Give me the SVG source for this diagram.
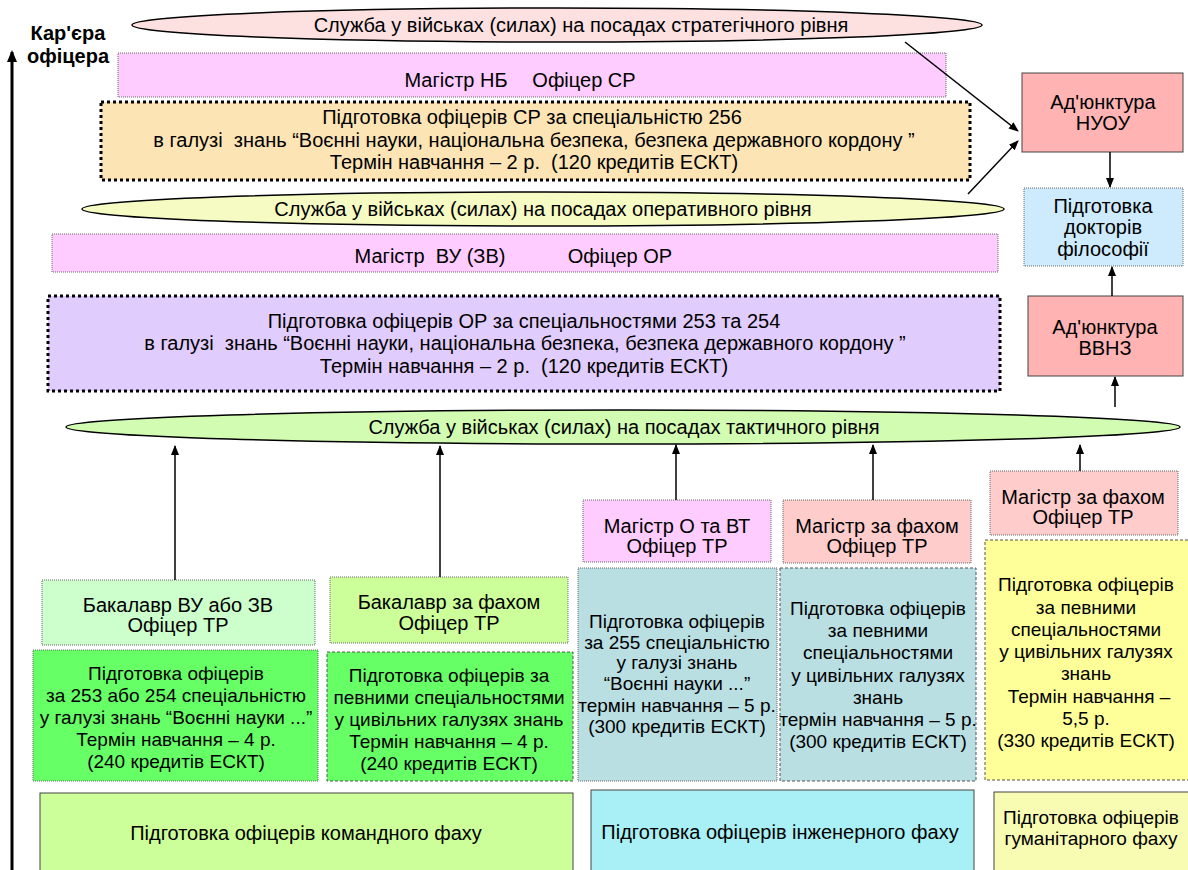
<svg xmlns="http://www.w3.org/2000/svg" width="1188" height="870" viewBox="0 0 1188 870">
<defs>
<marker id="ah" markerWidth="10" markerHeight="10" refX="9" refY="5" orient="auto" markerUnits="userSpaceOnUse">
<path d="M0,1 L10,5 L0,9 Z" fill="#000"/>
</marker>
<marker id="ahb" markerWidth="12" markerHeight="12" refX="10" refY="6" orient="auto" markerUnits="userSpaceOnUse">
<path d="M0,1 L12,6 L0,11 Z" fill="#000"/>
</marker>
<style>
text{font-family:"Liberation Sans",Arial,sans-serif;font-size:20px;fill:#000;text-anchor:middle}
.sm{font-size:19px}
.b{font-weight:bold;font-size:20px}
.ell{stroke:#000;stroke-width:1.5}
.thin{stroke:#666;stroke-width:1;stroke-dasharray:1 1}
.thick{stroke:#000;stroke-width:3;stroke-dasharray:3 3}
.dash{stroke:#555;stroke-width:1;stroke-dasharray:3 2}
.solid{stroke:#444;stroke-width:1}
.con{stroke:#000;stroke-width:1.5;fill:none;marker-end:url(#ah)}
</style>
</defs>

<g id="axis">
<line x1="12" y1="870" x2="12" y2="52" stroke="#000" stroke-width="3" marker-end="url(#ahb)"/>
<text class="b" x="68" y="40">Кар'єра</text>
<text class="b" x="68" y="63">офіцера</text>
</g>

<g id="strategic">
<ellipse class="ell" cx="557" cy="25" rx="425" ry="17" fill="#fde0e0"/>
<text x="581" y="32">Служба у військах (силах) на посадах стратегічного рівня</text>
</g>

<g id="magistr-nb">
<rect class="thin" x="118" y="53" width="828" height="44" fill="#ffccff"/>
<text x="456" y="87">Магістр НБ</text>
<text x="584" y="87">Офіцер СР</text>
</g>

<g id="sr-training">
<rect class="thick" x="101" y="102" width="869" height="78" fill="#fce4b4"/>
<text x="532" y="124">Підготовка офіцерів СР за спеціальністю 256</text>
<text x="534" y="147" xml:space="preserve">в галузі  знань “Воєнні науки, національна безпека, безпека державного кордону ”</text>
<text x="534" y="169" xml:space="preserve">Термін навчання – 2 р.  (120 кредитів ЕСКТ)</text>
</g>

<g id="operational">
<ellipse class="ell" cx="543" cy="209" rx="461" ry="17" fill="#f6fbc4"/>
<text x="543" y="216">Служба у військах (силах) на посадах оперативного рівня</text>
</g>

<g id="magistr-vu">
<rect class="thin" x="52" y="234" width="946" height="38" fill="#ffccff"/>
<text x="430" y="263" xml:space="preserve">Магістр  ВУ (ЗВ)</text>
<text x="620" y="263">Офіцер ОР</text>
</g>

<g id="or-training">
<rect class="thick" x="48" y="296" width="952" height="95" fill="#e0ccfd"/>
<text x="524" y="328">Підготовка офіцерів ОР за спеціальностями 253 та 254</text>
<text x="525" y="350" xml:space="preserve">в галузі  знань “Воєнні науки, національна безпека, безпека державного кордону ”</text>
<text x="524" y="373" xml:space="preserve">Термін навчання – 2 р.  (120 кредитів ЕСКТ)</text>
</g>

<g id="tactical">
<ellipse class="ell" cx="623" cy="427" rx="557" ry="17" fill="#d2fcb2"/>
<text x="624" y="434">Служба у військах (силах) на посадах тактичного рівня</text>
</g>

<g id="adj-nuou">
<rect class="solid" x="1022" y="73" width="161" height="79" fill="#ffb3b3"/>
<text x="1103" y="109">Ад'юнктура</text>
<text x="1103" y="130">НУОУ</text>
</g>

<g id="doctors">
<rect class="thin" x="1024" y="188" width="159" height="78" fill="#cdebfc"/>
<text x="1103" y="213">Підготовка</text>
<text x="1103" y="234">докторів</text>
<text x="1103" y="256">філософії</text>
</g>

<g id="adj-vvnz">
<rect class="solid" x="1028" y="296" width="155" height="80" fill="#ffb3b3"/>
<text x="1105" y="334">Ад'юнктура</text>
<text x="1105" y="355">ВВНЗ</text>
</g>

<g id="bak-vu">
<rect class="thin" x="42" y="580" width="273" height="65" fill="#ccffcc"/>
<text x="178" y="612">Бакалавр ВУ або ЗВ</text>
<text x="178" y="632">Офіцер ТР</text>
</g>

<g id="bak-fah">
<rect class="thin" x="330" y="577" width="238" height="66" fill="#ccff99"/>
<text x="449" y="609">Бакалавр за фахом</text>
<text x="449" y="630">Офіцер ТР</text>
</g>

<g id="train-253">
<rect class="thin" x="33" y="650" width="285" height="131" fill="#66ff66"/>
<text class="sm" x="176" y="680">Підготовка офіцерів</text>
<text class="sm" x="176" y="702">за 253 або 254 спеціальністю</text>
<text class="sm" x="176" y="724">у галузі знань “Воєнні науки ...”</text>
<text class="sm" x="176" y="746">Термін навчання – 4 р.</text>
<text class="sm" x="176" y="768">(240 кредитів ЕСКТ)</text>
</g>

<g id="train-civ4">
<rect class="dash" x="327" y="652" width="246" height="129" fill="#66ff66"/>
<text class="sm" x="449" y="682">Підготовка офіцерів за</text>
<text class="sm" x="449" y="704">певними спеціальностями</text>
<text class="sm" x="449" y="726">у цивільних галузях знань</text>
<text class="sm" x="449" y="748">Термін навчання – 4 р.</text>
<text class="sm" x="449" y="770">(240 кредитів ЕСКТ)</text>
</g>

<g id="mag-ovt">
<rect class="thin" x="583" y="500" width="188" height="62" fill="#ffccff"/>
<text x="677" y="533">Магістр О та ВТ</text>
<text x="677" y="553">Офіцер ТР</text>
</g>

<g id="mag-fah-mid">
<rect class="thin" x="783" y="500" width="188" height="63" fill="#ffcccc"/>
<text x="877" y="533">Магістр за фахом</text>
<text x="877" y="553">Офіцер ТР</text>
</g>

<g id="mag-fah-right">
<rect class="thin" x="990" y="471" width="188" height="64" fill="#ffcccc"/>
<text x="1083" y="504">Магістр за фахом</text>
<text x="1083" y="524">Офіцер ТР</text>
</g>

<g id="train-255">
<rect class="thin" x="578" y="568" width="199" height="213" fill="#b9dfe3"/>
<text class="sm" x="677" y="628">Підготовка офіцерів</text>
<text class="sm" x="677" y="649">за 255 спеціальністю</text>
<text class="sm" x="677" y="669">у галузі знань</text>
<text class="sm" x="677" y="690">“Воєнні науки ...”</text>
<text class="sm" x="677" y="712">термін навчання – 5 р.</text>
<text class="sm" x="677" y="733">(300 кредитів ЕСКТ)</text>
</g>

<g id="train-civ5">
<rect class="dash" x="780" y="568" width="196" height="213" fill="#b9dfe3"/>
<text class="sm" x="878" y="615">Підготовка офіцерів</text>
<text class="sm" x="878" y="637">за певними</text>
<text class="sm" x="878" y="659">спеціальностями</text>
<text class="sm" x="878" y="682">у цивільних галузях</text>
<text class="sm" x="878" y="704">знань</text>
<text class="sm" x="878" y="726">термін навчання – 5 р.</text>
<text class="sm" x="878" y="748">(300 кредитів ЕСКТ)</text>
</g>

<g id="train-civ55">
<rect class="dash" x="985" y="540" width="210" height="240" fill="#ffff99"/>
<text class="sm" x="1086" y="591">Підготовка офіцерів</text>
<text class="sm" x="1086" y="614">за певними</text>
<text class="sm" x="1086" y="636">спеціальностями</text>
<text class="sm" x="1086" y="658">у цивільних галузях</text>
<text class="sm" x="1086" y="680">знань</text>
<text class="sm" x="1089" y="703">Термін навчання –</text>
<text class="sm" x="1086" y="725">5,5 р.</text>
<text class="sm" x="1086" y="747">(330 кредитів ЕСКТ)</text>
</g>

<g id="command">
<rect class="solid" x="40" y="793" width="533" height="80" fill="#ccff99"/>
<text x="306" y="840">Підготовка офіцерів командного фаху</text>
</g>

<g id="engineering">
<rect class="solid" x="591" y="790" width="383" height="83" fill="#a8f0f5"/>
<text x="780" y="839">Підготовка офіцерів інженерного фаху</text>
</g>

<g id="humanitarian">
<rect class="solid" x="994" y="792" width="200" height="81" fill="#f8fcb2"/>
<text class="sm" x="1091" y="824">Підготовка офіцерів</text>
<text class="sm" x="1091" y="845">гуманітарного фаху</text>
</g>

<g id="connectors">
<line class="con" x1="905" y1="42" x2="1018" y2="131"/>
<line class="con" x1="968" y1="194" x2="1018" y2="141"/>
<line class="con" x1="1110" y1="152" x2="1110" y2="187"/>
<line class="con" x1="1112" y1="296" x2="1112" y2="267"/>
<line class="con" x1="1115" y1="407" x2="1115" y2="377"/>
<line class="con" x1="175" y1="580" x2="175" y2="446"/>
<line class="con" x1="440" y1="577" x2="440" y2="446"/>
<line class="con" x1="676" y1="500" x2="676" y2="445"/>
<line class="con" x1="873" y1="500" x2="873" y2="445"/>
<line class="con" x1="1080" y1="471" x2="1080" y2="445"/>
</g>
</svg>
